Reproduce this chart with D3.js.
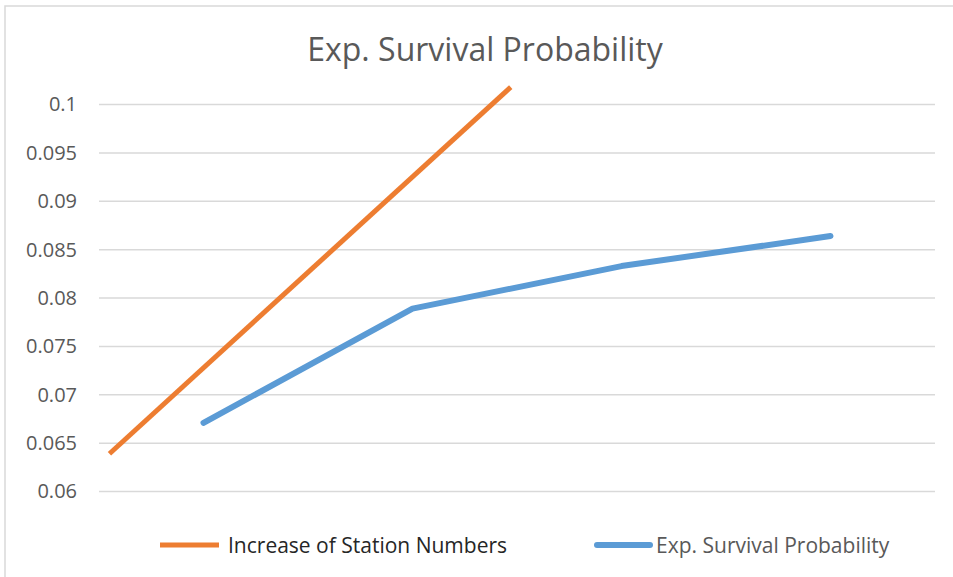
<!doctype html>
<html>
  <head>
    <meta charset="utf-8">
    <script src="https://d3js.org/d3.v7.min.js"></script>
    <style>
      body { margin: 0; background: white; }
      text { font-family: "Open Sans", sans-serif; }
    </style>
  </head>

  <body>
    <svg class="chart" width=953 height=577></svg>

    <script>
        // values
        var yTicks = [0.06, 0.065, 0.07, 0.075, 0.08, 0.085, 0.09, 0.095, 0.1];
        var yTickLabels = ["0.06", "0.065", "0.07", "0.075", "0.08", "0.085", "0.09", "0.095", "0.1"];

        // blue series sits on the 4 category centres
        var survivalX = [0.5, 1.5, 2.5, 3.5];
        var survivalY = [0.0671, 0.0789, 0.0833, 0.0864];

        // orange series, two end points (x in category units)
        var stationX = [0.05, 1.97];
        var stationY = [0.0639, 0.1018];

        var seriesNames = ["Increase of Station Numbers", "Exp. Survival Probability"];
        var seriesColors = ["#ED7D31", "#5B9BD5"];

        var svg = d3.select("svg");

        // chart border (only top and left are in frame)
        svg.append("rect")
            .attr("x", 5).attr("y", 6)
            .attr("width", 960).attr("height", 600)
            .attr("fill", "white")
            .attr("stroke", "#d9d9d9")
            .attr("stroke-width", 1.5);

        var xScale = d3.scaleLinear().domain([0, 4]).range([99, 935]);
        var yScale = d3.scaleLinear().domain([0.06, 0.1]).range([491.5, 104.5]);

        // gridlines
        svg.append("g").selectAll("line")
            .data(yTicks)
            .enter().append("line")
                .attr("x1", xScale(0))
                .attr("x2", xScale(4))
                .attr("y1", function(d){return yScale(d);} )
                .attr("y2", function(d){return yScale(d);} )
                .attr("stroke", "#d9d9d9")
                .attr("stroke-width", 1.5);

        // y axis labels
        var yAxis = d3.axisLeft(yScale)
            .tickValues(yTicks)
            .tickFormat(function(d, i){return yTickLabels[i];} )
            .tickSize(0)
            .tickPadding(22);
        var gy = svg.append("g")
            .attr("transform", "translate(" + xScale(0) + ",0)")
            .call(yAxis);
        gy.select(".domain").remove();
        gy.selectAll("text")
            .attr("fill", "#595959")
            .style("font-size", "20px")
            .style("font-family", "Open Sans, sans-serif");

        var line = d3.line()
            .x(function(d){return xScale(d[0]);} )
            .y(function(d){return yScale(d[1]);} );

        svg.append("path")
            .datum(d3.zip(survivalX, survivalY))
            .attr("d", line)
            .attr("fill", "none")
            .attr("stroke", seriesColors[1])
            .attr("stroke-width", 6)
            .attr("stroke-linecap", "round")
            .attr("stroke-linejoin", "round");

        svg.append("path")
            .datum(d3.zip(stationX, stationY))
            .attr("d", line)
            .attr("fill", "none")
            .attr("stroke", seriesColors[0])
            .attr("stroke-width", 5)
            .attr("stroke-linecap", "butt");

        // title
        svg.append("text")
            .attr("x", 485)
            .attr("y", 61)
            .attr("text-anchor", "middle")
            .attr("fill", "#595959")
            .style("font-size", "32px")
            .text("Exp. Survival Probability");

        // legend
        var legendX = [160, 597];
        var legendLen = [59, 53];
        var legendGap = [9, 6];
        var legendTextColor = ["#262626", "#595959"];
        var lg = svg.append("g");
        seriesNames.forEach(function(name, i) {
            lg.append("line")
                .attr("x1", legendX[i]).attr("x2", legendX[i] + legendLen[i])
                .attr("y1", 545).attr("y2", 545)
                .attr("stroke", seriesColors[i])
                .attr("stroke-width", i === 0 ? 5 : 6)
                .attr("stroke-linecap", i === 0 ? "butt" : "round");
            lg.append("text")
                .attr("x", legendX[i] + legendLen[i] + legendGap[i])
                .attr("y", 553)
                .attr("fill", legendTextColor[i])
                .style("font-size", "21px")
                .text(name);
        });
    </script>
  </body>
</html>
